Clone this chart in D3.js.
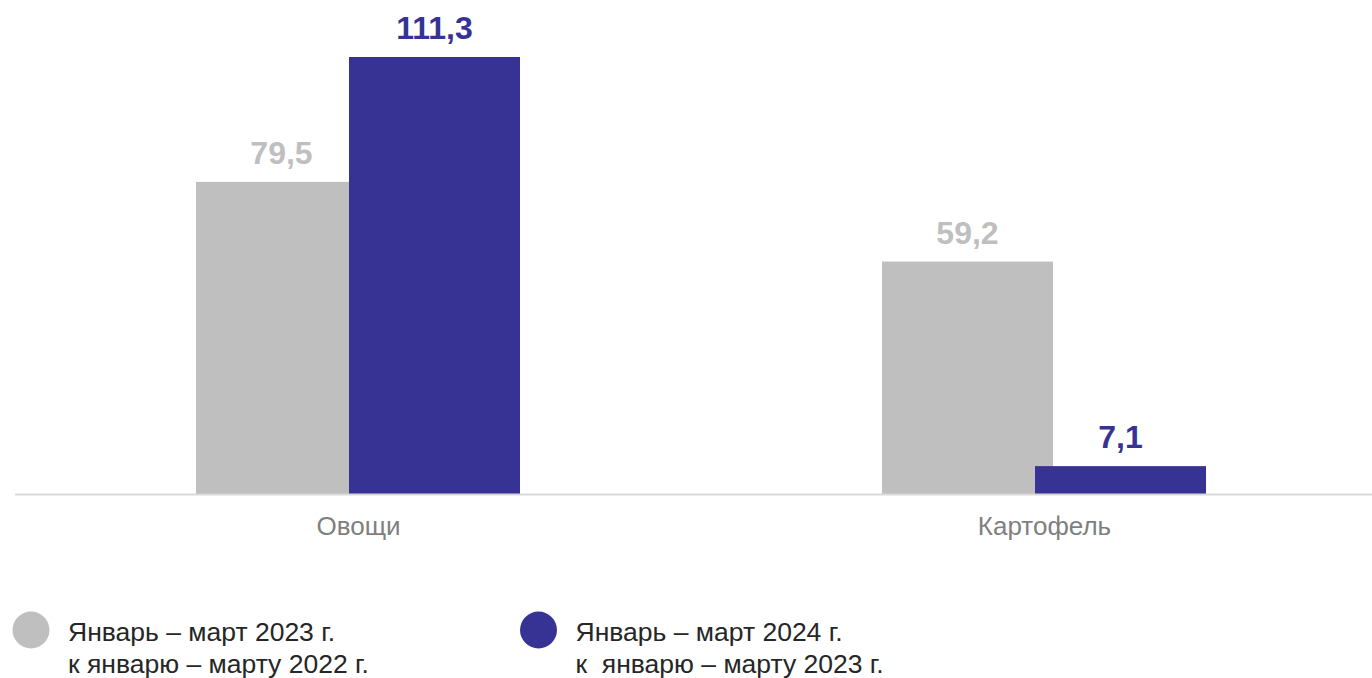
<!DOCTYPE html>
<html>
<head>
<meta charset="utf-8">
<script src="https://cdn.jsdelivr.net/npm/d3@7"></script>
<style>
  body { margin: 0; background: #fff; }
  svg { display: block; font-family: "Liberation Sans", Arial, sans-serif; }
</style>
</head>
<body>
<div id="chart"></div>
<script>
//Chart data
const categories = ["Овощи", "Картофель"];
const seriesNames = ["2023", "2024"];
const values2023 = [79.5, 59.2];
const values2024 = [111.3, 7.1];
const legendLines = [
	["Январь – март 2023 г.", "к январю – марту 2022 г."],
	["Январь – март 2024 г.", "к  январю – марту 2023 г."]
];

//Colours
const GRAY = "#bfbfbf";
const BLUE = "#373395";

const width = 1372;
const height = 678;
const baseY = 494;

//////////////////////////////////////////////////

var svg = d3.select("#chart")
			.append("svg")
			.attr("width", width)
			.attr("height", height);

//Category scale: one band per group
var x0 = d3.scaleBand()
		   .domain(categories)
		   .range([15.5, 1387.5])
		   .padding(0);

//Series offset inside the group (bars overlap slightly)
var x1 = d3.scaleBand()
		   .domain(seriesNames)
		   .range([-162.5, 143.5]);
const BAR_W = 171;

var y = d3.scaleLinear()
		  .domain([0, 111.3])
		  .range([baseY, 57]);

var series = [
	{ key: "2023", values: values2023, color: GRAY },
	{ key: "2024", values: values2024, color: BLUE }
];

//Bars
series.forEach(function(s) {
	var g = svg.append("g");
	g.selectAll("rect")
	 .data(categories)
	 .enter()
	 .append("rect")
	 .attr("x", function(c) { return x0(c) + x0.bandwidth() / 2 + x1(s.key); })
	 .attr("y", function(c, i) { return y(s.values[i]); })
	 .attr("width", BAR_W)
	 .attr("height", function(c, i) { return baseY - y(s.values[i]); })
	 .attr("fill", s.color);

	g.selectAll("text")
	 .data(categories)
	 .enter()
	 .append("text")
	 .attr("x", function(c) { return x0(c) + x0.bandwidth() / 2 + x1(s.key) + BAR_W / 2; })
	 .attr("y", function(c, i) { return y(s.values[i]) - 18; })
	 .attr("text-anchor", "middle")
	 .attr("font-size", 32)
	 .attr("font-weight", "bold")
	 .attr("fill", s.color)
	 .text(function(c, i) { return String(s.values[i]).replace(".", ","); });
});

//Baseline
svg.append("line")
   .attr("x1", 15)
   .attr("x2", width)
   .attr("y1", baseY + 0.5)
   .attr("y2", baseY + 0.5)
   .attr("stroke", "#d9d9d9")
   .attr("stroke-width", 2);

//Category labels
svg.append("g")
   .selectAll("text")
   .data(categories)
   .enter()
   .append("text")
   .attr("x", function(c) { return x0(c) + x0.bandwidth() / 2; })
   .attr("y", 535)
   .attr("text-anchor", "middle")
   .attr("font-size", 26)
   .attr("fill", "#7f7f7f")
   .text(function(c) { return c; });

//Legend
var legendX = [31, 538.5];
series.forEach(function(s, i) {
	var lg = svg.append("g").attr("transform", "translate(" + legendX[i] + ",630)");
	lg.append("circle")
	  .attr("r", 18.5)
	  .attr("fill", s.color);
	lg.selectAll("text")
	  .data(legendLines[i])
	  .enter()
	  .append("text")
	  .attr("x", 37)
	  .attr("y", function(d, j) { return 11 + j * 32; })
	  .attr("font-size", 26.5)
	  .attr("fill", "#262626")
	  .style("white-space", "pre")
	  .text(function(d) { return d; });
});
</script>
</body>
</html>
